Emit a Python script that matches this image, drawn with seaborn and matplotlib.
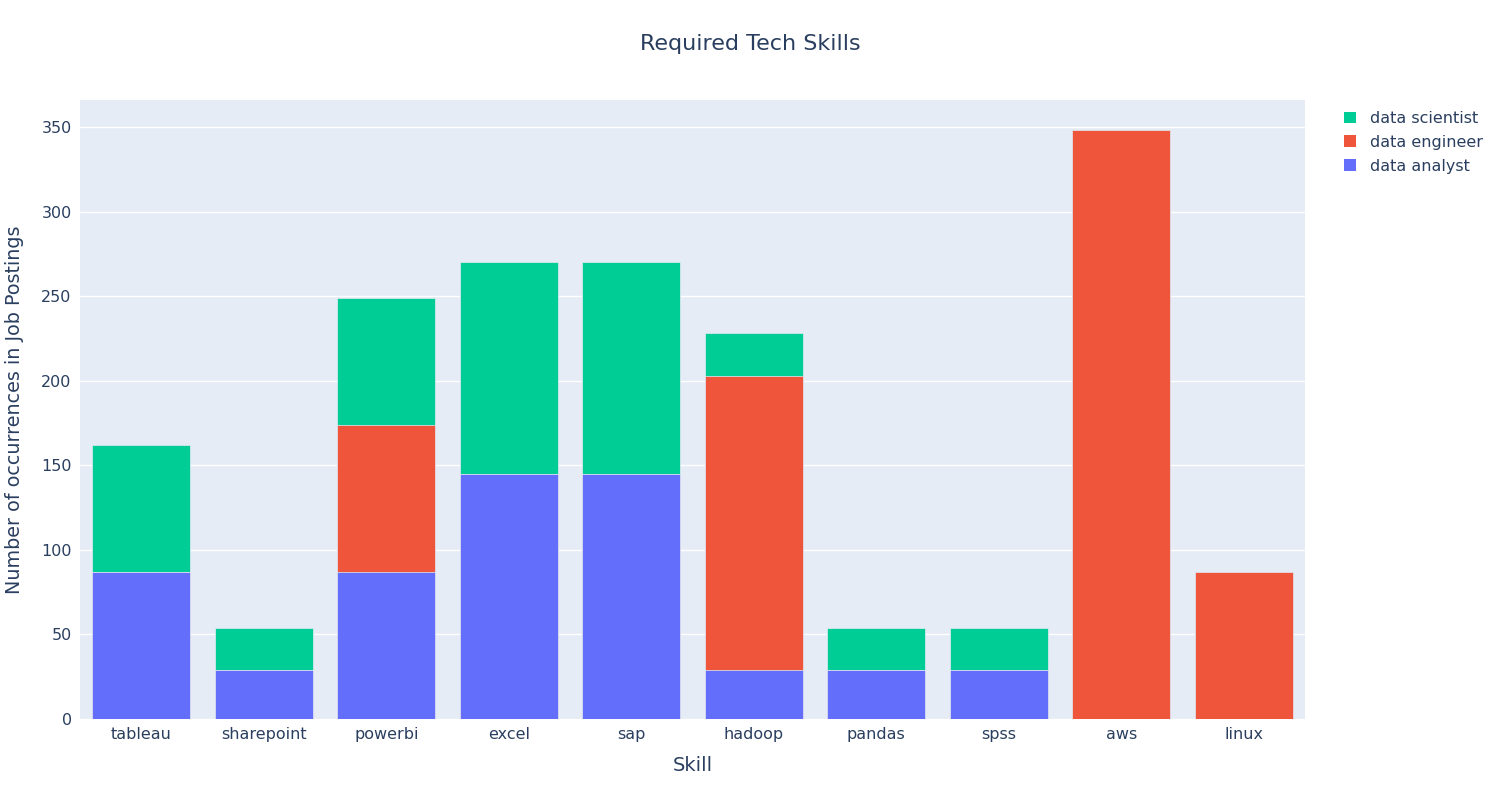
import matplotlib
matplotlib.use("Agg")
import matplotlib.pyplot as plt
import seaborn as sns
import pandas as pd
import numpy as np
from matplotlib.patches import Patch

skills = ["tableau", "sharepoint", "powerbi", "excel", "sap", "hadoop", "pandas", "spss", "aws", "linux"]
data_analyst = [87, 29, 87, 145, 145, 29, 29, 29, 0, 0]
data_engineer = [0, 0, 87, 0, 0, 174, 0, 0, 348, 87]
data_scientist = [75, 25, 75, 125, 125, 25, 25, 25, 0, 0]

roles = ["data analyst", "data engineer", "data scientist"]
colors = {"data analyst": "#636EFA", "data engineer": "#EF553B", "data scientist": "#00CC96"}
text_color = "#2a3f5f"

sns.set_theme(style="darkgrid", rc={
    "axes.facecolor": "#E5ECF6",
    "grid.color": "white",
    "grid.linewidth": 1.0,
    "axes.edgecolor": "#E5ECF6",
})
plt.rcParams["font.family"] = ["DejaVu Sans"]

fig = plt.figure(figsize=(15, 8), dpi=100)
ax = fig.add_axes([80 / 1500, 81 / 800, 1225 / 1500, 619 / 800])

a = np.array(data_analyst)
e = np.array(data_engineer)
s = np.array(data_scientist)
df = pd.DataFrame({
    "skill": skills,
    "total": a + e + s,
    "ae": a + e,
    "a": a,
})

for col, role in [("total", "data scientist"), ("ae", "data engineer"), ("a", "data analyst")]:
    sns.barplot(data=df, x="skill", y=col, order=skills, color=colors[role],
                saturation=1, width=0.8, edgecolor="#E5ECF6", linewidth=0.5, ax=ax)

ax.set_xlim(-0.5, len(skills) - 0.5)
ax.set_ylim(0, 366)
ax.set_yticks(range(0, 351, 50))
ax.grid(axis="x", visible=False)
ax.grid(axis="y", color="white", linewidth=1)
ax.set_axisbelow(True)
for sp in ax.spines.values():
    sp.set_visible(False)
ax.tick_params(axis="both", length=0, labelsize=11.5, labelcolor=text_color, pad=6)

ax.set_xlabel("Skill", fontsize=14, color=text_color, labelpad=10)
ax.set_ylabel("Number of occurrences in Job Postings", fontsize=13.8, color=text_color, labelpad=12)
fig.suptitle("Required Tech Skills", x=0.5, y=0.958, fontsize=16, color=text_color)

handles = [Patch(facecolor=colors[r], edgecolor="none") for r in ["data scientist", "data engineer", "data analyst"]]
leg = fig.legend(handles, ["data scientist", "data engineer", "data analyst"],
                 loc="upper left", bbox_to_anchor=(1336 / 1500, 1 - 103 / 800),
                 frameon=False, fontsize=11.5, handlelength=0.75, handleheight=0.75,
                 handletextpad=0.9, labelspacing=0.55, borderpad=0)
for t in leg.get_texts():
    t.set_color(text_color)

fig.savefig("out.png", dpi=100, facecolor="white")
